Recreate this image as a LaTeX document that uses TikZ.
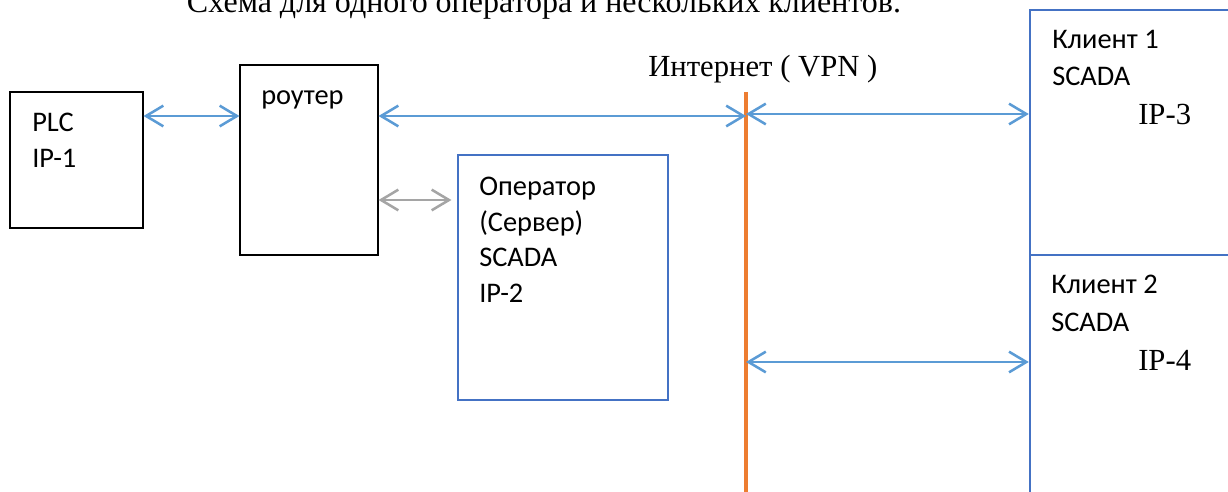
\documentclass[tikz,border=0pt]{standalone}
\usepackage{fontspec}
\setmainfont{Liberation Serif}
\newfontfamily\calfont{Carlito}
\usetikzlibrary{arrows.meta}
\definecolor{boxblue}{HTML}{4472C4}
\definecolor{arrblue}{HTML}{5B9BD5}
\definecolor{netorange}{HTML}{ED7D31}
\definecolor{arrgrey}{HTML}{A5A5A5}
\begin{document}
\begin{tikzpicture}[x=0.75pt,y=-0.75pt,
  blkbox/.style={draw=black,line width=0.8pt,inner sep=0pt},
  bluebox/.style={draw=boxblue,line width=1.8pt,inner sep=0pt},
  cal/.style={font=\calfont\fontsize{21.3}{25}\selectfont,anchor=base west,inner sep=0pt},
  tms/.style={font=\fontsize{23}{27}\selectfont,anchor=base west,inner sep=0pt},
  arr/.style={draw=arrblue,line width=1.9pt,{Straight Barb[length=13pt,width=15.5pt]}-{Straight Barb[length=13pt,width=15.5pt]}},
  garr/.style={draw=arrgrey,line width=1.9pt,{Straight Barb[length=13pt,width=15.5pt]}-{Straight Barb[length=13pt,width=15.5pt]}}]
\path[use as bounding box] (0,0) rectangle (1228,492);
\clip (0,0) rectangle (1228,492);
% title (top half cut off, as in the reference)
\node[font=\fontsize{24}{28}\selectfont,anchor=base,inner sep=0pt] (title) at (544,13) {Схема для одного оператора и нескольких клиентов.};
% boxes
\node[blkbox,minimum width=99.75pt,minimum height=102pt] (plc) at (76.5,160) {};
\node[blkbox,minimum width=103.5pt,minimum height=142.5pt] (router) at (309,160) {};
\node[bluebox,minimum width=157.5pt,minimum height=183.75pt] (op) at (563,277.5) {};
\node[bluebox,minimum width=172.5pt,minimum height=183.75pt] (c1) at (1145,132.5) {};
\node[bluebox,minimum width=172.5pt,minimum height=198.75pt] (c2) at (1145,387.5) {};
% texts
\node[cal] (plcA) at (32,132) {PLC};
\node[cal] (plcB) at (32,167) {IP-1};
\node[cal] (rt) at (261,104) {роутер};
\node[cal] (opA) at (479,195) {Оператор};
\node[cal] (opB) at (479,231) {(Сервер)};
\node[cal] (opC) at (479,266) {SCADA};
\node[cal] (opD) at (479,302) {IP-2};
\node[cal] (c1A) at (1052,49) {Клиент 1};
\node[cal] (c1B) at (1052,86) {SCADA};
\node[tms] (c1C) at (1138,124) {IP-3};
\node[cal] (c2A) at (1051,293) {Клиент 2};
\node[cal] (c2B) at (1051,331) {SCADA};
\node[tms] (c2C) at (1138,370) {IP-4};
\node[tms] (inetlbl) at (648,77) {Интернет ( VPN )};
% internet line
\coordinate (netT) at (746,92);
\coordinate (netB) at (746,500);
\draw[draw=netorange,line width=2.8pt] (netT) -- (netB);
% arrow levels
\coordinate (y1) at (0,116);
\coordinate (y2) at (0,200);
\coordinate (y3) at (0,114);
\coordinate (y4) at (0,362);
\draw[arr] (plc.east |- y1) -- (router.west |- y1);
\draw[arr] (router.east |- y1) -- (netT |- y1);
\draw[garr,shorten >=4pt] (router.east |- y2) -- (op.west |- y2);
\draw[arr] (netT |- y3) -- (c1.west |- y3);
\draw[arr] (netT |- y4) -- (c2.west |- y4);
\end{tikzpicture}
\end{document}
